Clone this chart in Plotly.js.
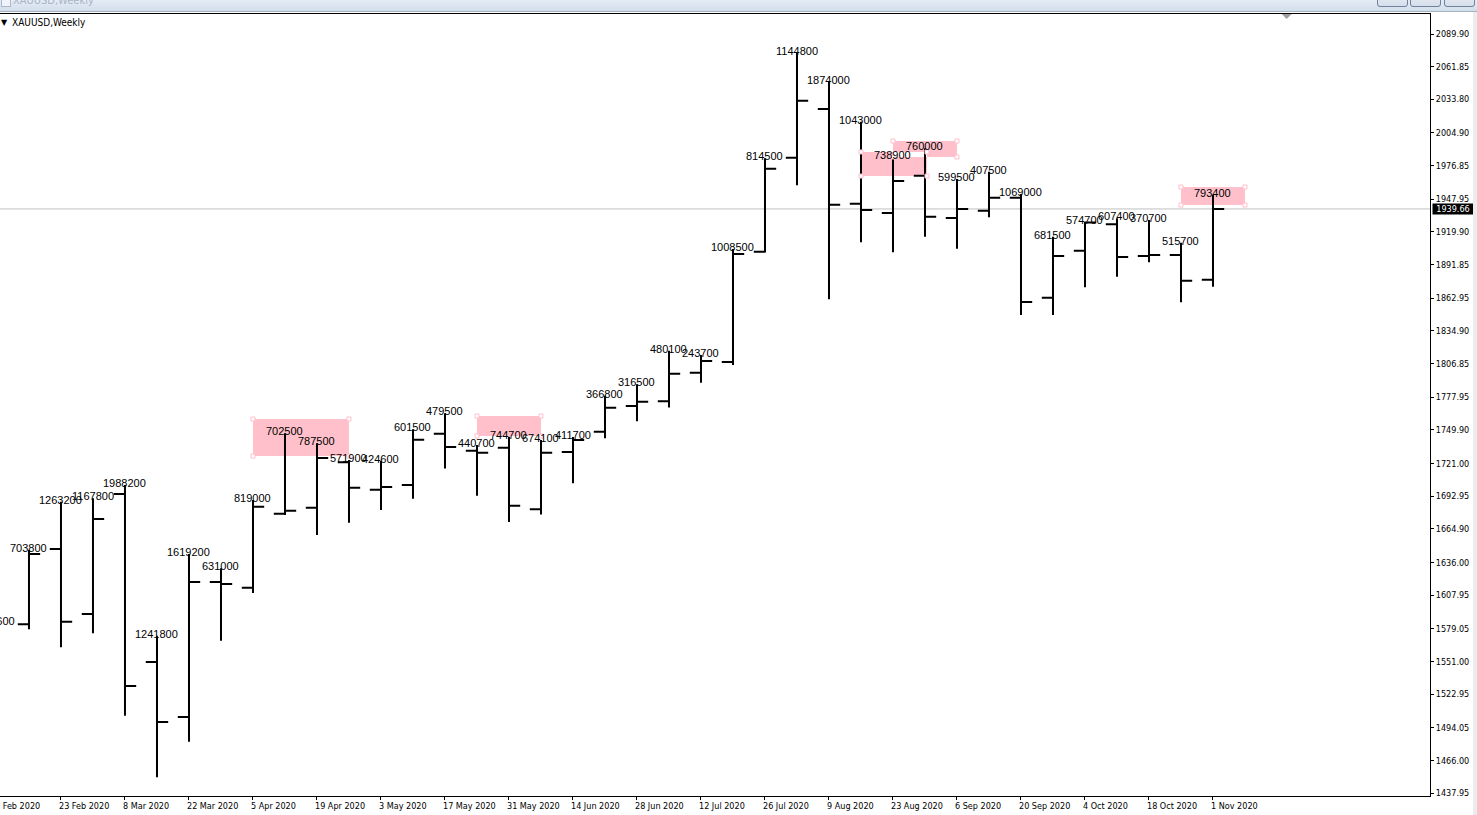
<!DOCTYPE html>
<html>
<head>
<meta charset="utf-8">
<script src="https://cdn.plot.ly/plotly-3.0.1.min.js"></script>
<style>
  html, body { margin: 0; padding: 0; background: #ffffff; overflow: hidden; }
  #chart { position: absolute; left: 0; top: 0; width: 1477px; height: 815px; }
  #titlebar { position: absolute; left: 0; top: 0; width: 1477px; height: 11px; z-index: 5;
    background: linear-gradient(#e4ecf6, #d3deec); border-bottom: 1px solid #a7b2c0; overflow: hidden; }
  #titlebar .ttl { position: absolute; left: 13px; top: -6px; font: 11px "DejaVu Sans Condensed", "DejaVu Sans", sans-serif; color: #a9b3c4; }
  #titlebar .ico { position: absolute; left: 1px; top: -3px; width: 8px; height: 8px; border: 1px solid #a9b8cc; background: #f0f4fa; }
  .btn { position: absolute; top: -10px; height: 15px; width: 29px; border: 1px solid #6f819b; border-radius: 3px;
    background: linear-gradient(#eef2f8, #d5deea); z-index: 6; }
  #rstrip { position: absolute; left: 1473px; top: 12px; width: 4px; height: 803px; background: #ececec; z-index: 5; }
</style>
</head>
<body>
<div id="chart"></div>
<div id="titlebar"><div class="ico"></div><div class="ttl">XAUUSD,Weekly</div></div>
<div class="btn" style="left:1377px"></div>
<div class="btn" style="left:1410px"></div>
<div class="btn" style="left:1444px"></div>
<div id="rstrip"></div>
<script>
// ---- data (weekly XAUUSD bars) ----
const dates = ['2020-02-16','2020-02-23','2020-03-01','2020-03-08','2020-03-15','2020-03-22','2020-03-29','2020-04-05','2020-04-12','2020-04-19','2020-04-26','2020-05-03','2020-05-10','2020-05-17','2020-05-24','2020-05-31','2020-06-07','2020-06-14','2020-06-21','2020-06-28','2020-07-05','2020-07-12','2020-07-19','2020-07-26','2020-08-02','2020-08-09','2020-08-16','2020-08-23','2020-08-30','2020-09-06','2020-09-13','2020-09-20','2020-09-27','2020-10-04','2020-10-11','2020-10-18','2020-10-25','2020-11-01'];
const openP  = [1582.9,1647.5,1591.7,1694.8,1550.5,1503.2,1619.2,1614.3,1677.9,1683.0,1722.0,1698.5,1702.5,1746.6,1732.0,1734.5,1681.6,1730.9,1748.3,1770.4,1774.4,1799.0,1808.2,1902.9,1983.7,2025.5,1944.2,1936.2,1968.2,1931.8,1938.1,1949.3,1863.4,1903.8,1926.4,1899.2,1900.1,1878.9];
const highP  = [1646.7,1688.2,1691.1,1702.5,1573.1,1643.2,1631.0,1689.6,1746.9,1738.3,1724.0,1723.4,1750.4,1764.1,1736.9,1744.0,1741.2,1743.7,1779.2,1789.0,1817.9,1814.2,1905.2,1983.1,2073.8,2048.9,2014.6,1984.5,1991.7,1965.3,1971.6,1952.5,1915.8,1928.7,1931.6,1930.1,1910.6,1951.6];
const lowP   = [1578.6,1563.1,1575.1,1504.4,1451.4,1482.0,1568.8,1609.7,1676.7,1659.6,1670.1,1681.0,1690.7,1716.8,1693.3,1670.7,1677.3,1704.0,1742.6,1757.2,1769.2,1790.4,1805.6,1902.2,1960.0,1862.0,1911.0,1902.4,1915.8,1905.5,1932.5,1848.5,1848.5,1872.3,1881.4,1893.8,1859.4,1872.9];
const closeP = [1643.2,1585.1,1673.3,1529.9,1498.9,1619.2,1617.5,1683.9,1680.4,1725.7,1700.2,1700.8,1741.4,1735.1,1730.3,1684.7,1730.3,1741.2,1768.9,1774.1,1798.1,1809.0,1900.9,1974.2,2032.6,1943.3,1938.7,1963.6,1933.0,1939.6,1949.3,1859.7,1899.2,1928.0,1898.4,1900.1,1878.0,1939.66];
const volumes = [703800,1263200,1167800,1988200,1241800,1619200,631000,819000,702500,787500,571900,424600,601500,479500,440700,744700,674100,411700,366800,316500,480100,243700,1008500,814500,1144800,1874000,1043000,738900,760000,599500,407500,1069000,681500,574700,607400,370700,515700,793400];
// previous bar (9 Feb 2020), off the left edge: only its label is partly visible
const prevLabelDate = '9 Feb 2020';
const prevHigh = 1584.4;
const prevVolume = 956600;
const lastPrice = 1939.66;

// tick labels
const xTickDates = ['2020-02-23','2020-03-08','2020-03-22','2020-04-05','2020-04-19','2020-05-03','2020-05-17','2020-05-31','2020-06-14','2020-06-28','2020-07-12','2020-07-26','2020-08-09','2020-08-23','2020-09-06','2020-09-20','2020-10-04','2020-10-18','2020-11-01'];
const xTickText = ['23 Feb 2020','8 Mar 2020','22 Mar 2020','5 Apr 2020','19 Apr 2020','3 May 2020','17 May 2020','31 May 2020','14 Jun 2020','28 Jun 2020','12 Jul 2020','26 Jul 2020','9 Aug 2020','23 Aug 2020','6 Sep 2020','20 Sep 2020','4 Oct 2020','18 Oct 2020','1 Nov 2020'];
const yTickVals = [2089.90,2061.85,2033.80,2004.90,1976.85,1947.95,1919.90,1891.85,1862.95,1834.90,1806.85,1777.95,1749.90,1721.00,1692.95,1664.90,1636.00,1607.95,1579.05,1551.00,1522.95,1494.05,1466.00,1437.95];

// highlight rectangles drawn on the chart [x0, x1, y0, y1]
const rectX0 = ['2020-04-05','2020-05-24','2020-08-16','2020-08-23','2020-10-25'];
const rectX1 = ['2020-04-26','2020-06-07','2020-08-30 10:30','2020-09-06','2020-11-08'];
const rectY0 = [1727.4,1744.6,1967.9,1984.3,1943.0];
const rectY1 = [1759.2,1761.8,1988.6,1998.0,1958.5];

const axisFont = {family: '"DejaVu Sans Condensed", "DejaVu Sans", sans-serif', size: 9, color: '#000000'};
const labelFont = {family: '"Liberation Sans", Arial, sans-serif', size: 11, color: '#000000'};
const pink = '#ffc0cb';
const barStepPx = 32; // one weekly bar on screen

const shapes = [];
for (let i = 0; i < rectX0.length; i++) {
  shapes.push({type: 'rect', xref: 'x', yref: 'y', x0: rectX0[i], x1: rectX1[i], y0: rectY0[i], y1: rectY1[i],
    fillcolor: pink, line: {width: 0}, layer: 'below'});
}
// overlap of rectangles 3 and 4 is cleared (XOR-style fill)
shapes.push({type: 'rect', xref: 'x', yref: 'y', x0: rectX0[3], x1: rectX1[2], y0: rectY0[3], y1: rectY1[2],
  fillcolor: '#ffffff', line: {width: 0}, layer: 'below'});
// selection handles at rectangle corners
for (let i = 0; i < rectX0.length; i++) {
  const corners = [[rectX0[i], rectY1[i]], [rectX1[i], rectY1[i]], [rectX0[i], rectY0[i]], [rectX1[i], rectY0[i]]];
  corners.forEach(c => {
    shapes.push({type: 'rect', xref: 'x', yref: 'y', xsizemode: 'pixel', ysizemode: 'pixel',
      xanchor: c[0], yanchor: c[1], x0: -2, x1: 2, y0: -2, y1: 2,
      fillcolor: '#ffffff', line: {color: pink, width: 1}, layer: 'above'});
  });
}
// last price line
shapes.push({type: 'line', xref: 'paper', yref: 'y', x0: 0, x1: 1, y0: lastPrice, y1: lastPrice,
  line: {color: '#c0c0c0', width: 1}, layer: 'below'});
// chart shift marker
shapes.push({type: 'path', xref: 'paper', yref: 'paper', path: 'M0.8963,1 L0.9033,1 L0.8998,0.9936 Z',
  fillcolor: '#a0a0a0', line: {width: 0}});

const annotations = [];
for (let i = 0; i < dates.length; i++) {
  annotations.push({x: dates[i], y: highP[i], xref: 'x', yref: 'y', text: String(volumes[i]), showarrow: false,
    xanchor: 'center', yanchor: 'middle', yshift: 2, font: labelFont});
}
// label of the bar just off the left edge (one bar step before the first bar)
annotations.push({x: dates[0], y: prevHigh, xref: 'x', yref: 'y', text: String(prevVolume), showarrow: false,
  xanchor: 'center', yanchor: 'middle', yshift: 2, xshift: -barStepPx, font: labelFont});
// clipped first date label
annotations.push({x: dates[0], y: 0, xref: 'x', yref: 'paper', text: prevLabelDate, showarrow: false,
  xanchor: 'left', yanchor: 'middle', yshift: -10, xshift: -barStepPx - 4, font: axisFont});
// last price tag
annotations.push({x: 1, y: lastPrice, xref: 'paper', yref: 'y', text: lastPrice.toFixed(2), showarrow: false,
  xanchor: 'left', yanchor: 'middle', xshift: 2, width: 40, height: 10, borderpad: 0,
  bgcolor: '#000000', font: {family: axisFont.family, size: 9, color: '#ffffff'}});
// chart caption
annotations.push({x: 0, y: 1, xref: 'paper', yref: 'paper', text: '▼', showarrow: false,
  xanchor: 'left', yanchor: 'middle', xshift: -1, yshift: -8, font: {family: 'DejaVu Sans', size: 8, color: '#000000'}});
annotations.push({x: 0, y: 1, xref: 'paper', yref: 'paper', text: 'XAUUSD,Weekly', showarrow: false,
  xanchor: 'left', yanchor: 'middle', xshift: 10, yshift: -8,
  font: {family: axisFont.family, size: 10, color: '#000000'}});

const trace = {
  type: 'ohlc', x: dates, open: openP, high: highP, low: lowP, close: closeP,
  increasing: {line: {color: '#000000', width: 2}},
  decreasing: {line: {color: '#000000', width: 2}},
  line: {width: 2}, tickwidth: 0.35, hoverinfo: 'none', showlegend: false
};

const layout = {
  width: 1477, height: 815,
  margin: {l: 0, r: 47, t: 14, b: 19, pad: 0},
  paper_bgcolor: '#ffffff', plot_bgcolor: '#ffffff',
  showlegend: false,
  xaxis: {
    type: 'date', range: ['2020-02-09 15:50', '2020-12-18 11:17'],
    rangeslider: {visible: false},
    tickmode: 'array', tickvals: xTickDates, ticktext: xTickText,
    ticks: 'outside', ticklen: 3, tickcolor: '#000000', tickwidth: 1,
    ticklabelposition: 'outside right', ticklabelshift: -3, ticklabelstandoff: 1,
    showline: true, linecolor: '#000000', linewidth: 1, mirror: true,
    showgrid: false, zeroline: false, tickfont: axisFont, fixedrange: true
  },
  yaxis: {
    side: 'right', range: [1435.4, 2107.1],
    tickmode: 'array', tickvals: yTickVals, ticktext: yTickVals.map(v => v.toFixed(2)),
    ticks: 'outside', ticklen: 3, tickcolor: '#000000', tickwidth: 1,
    showline: true, linecolor: '#000000', linewidth: 1,
    showgrid: false, zeroline: false, tickfont: axisFont, fixedrange: true
  },
  shapes: shapes,
  annotations: annotations
};

Plotly.newPlot('chart', [trace], layout, {displayModeBar: false, staticPlot: true});
</script>
</body>
</html>
